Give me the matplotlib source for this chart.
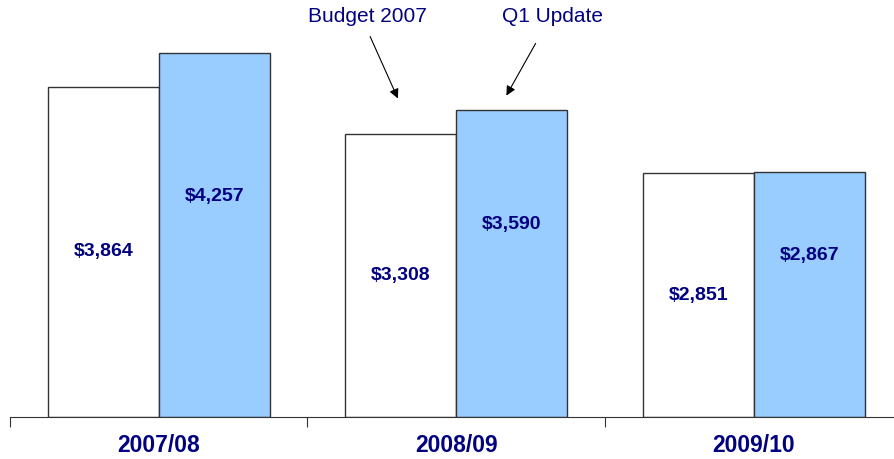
import numpy as np
import matplotlib.pyplot as plt

categories = ['2007/08', '2008/09', '2009/10']
budget_2007 = [3864, 3308, 2851]
q1_update = [4257, 3590, 2867]

navy = '#000080'
W, H = 894, 459

fig = plt.figure(figsize=(W / 100, H / 100), dpi=100)
# axes spans category boundaries; right end runs past the figure edge
ax = fig.add_axes([10 / W, 42 / H, 892.5 / W, 417 / H])

x = np.arange(len(categories))
bw = 0.373
ax.bar(x - bw / 2, budget_2007, bw, color='white', edgecolor='#333333', linewidth=1.0)
ax.bar(x + bw / 2, q1_update, bw, color='#99CCFF', edgecolor='#333333', linewidth=1.0)

for xi, v in zip(x, budget_2007):
    ax.text(xi - bw / 2, v / 2, f'${v:,}', ha='center', va='center',
            color=navy, fontsize=14, fontweight='bold', family='Liberation Sans')
for xi, v in zip(x, q1_update):
    ax.annotate(f'${v:,}', (xi + bw / 2, v / 2), xytext=(0, 28), textcoords='offset points',
                ha='center', va='center', color=navy, fontsize=14, fontweight='bold',
                family='Liberation Sans')

ax.set_xlim(-0.5, 2.5)
ax.set_ylim(0, 4877)

for s in ['top', 'right', 'left']:
    ax.spines[s].set_visible(False)
ax.spines['bottom'].set_color('#333333')
ax.set_yticks([])
ax.set_xticks([-0.5, 0.5, 1.5, 2.5])
ax.set_xticklabels([])
ax.tick_params(axis='x', direction='out', length=7, color='#333333')
ax.set_xticks(x, minor=True)
ax.set_xticklabels(categories, minor=True, color=navy, fontsize=16.5, fontweight='bold',
                   family='Liberation Sans')
ax.tick_params(axis='x', which='minor', length=0, pad=12)

# annotations with arrows
fig.text(367 / W, 1 - 17 / H, 'Budget 2007', ha='center', va='center', color=navy,
         fontsize=15, family='Liberation Sans')
fig.text(553 / W, 1 - 17 / H, 'Q1 Update', ha='center', va='center', color=navy,
         fontsize=15, family='Liberation Sans')
ax.annotate('', xy=(399 / W, 1 - 101 / H), xytext=(369 / W, 1 - 34 / H),
            xycoords='figure fraction', textcoords='figure fraction',
            arrowprops=dict(arrowstyle='-|>', color='black', lw=0.8, mutation_scale=14))
ax.annotate('', xy=(505 / W, 1 - 98 / H), xytext=(537 / W, 1 - 41 / H),
            xycoords='figure fraction', textcoords='figure fraction',
            arrowprops=dict(arrowstyle='-|>', color='black', lw=0.8, mutation_scale=14))

fig.savefig('out.png', dpi=100)
